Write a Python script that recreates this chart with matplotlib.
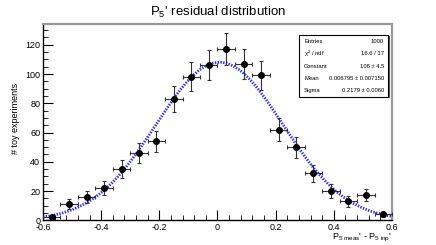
import matplotlib
matplotlib.use("Agg")
import matplotlib.pyplot as plt
import numpy as np
from matplotlib.ticker import MultipleLocator

plt.rcParams["font.family"] = ["Liberation Sans", "DejaVu Sans"]
plt.rcParams["mathtext.fontset"] = "custom"
plt.rcParams["mathtext.rm"] = "Liberation Sans"
plt.rcParams["mathtext.it"] = "Liberation Sans"

# histogram of toy residuals, 20 bins in [-0.6, 0.6]
bin_centers = [-0.57, -0.51, -0.45, -0.39, -0.33, -0.27, -0.21, -0.15, -0.09, -0.03,
               0.03, 0.09, 0.15, 0.21, 0.27, 0.33, 0.39, 0.45, 0.51, 0.57]
counts = [2, 11, 16, 22, 35, 46, 54, 83, 98, 106,
          117, 107, 99, 62, 50, 32, 20, 13, 17, 4]
count_errors = [1.4, 3.3, 4.0, 4.7, 5.9, 6.8, 7.3, 9.1, 9.9, 10.3,
                10.8, 10.3, 9.9, 7.9, 7.1, 5.7, 4.5, 3.6, 4.1, 2.0]
half_width = 0.03

# gaussian fit result
fit_constant = 108.0
fit_mean = 0.006795
fit_sigma = 0.2179

stats_names = ["Entries", r"$\chi^2$ / ndf", "Constant", "Mean", "Sigma"]
stats_values = ["1000", "16.6 / 17", "108 ± 4.5", "0.006795 ± 0.007150", "0.2179 ± 0.0060"]

fig = plt.figure(figsize=(4.36, 2.45), dpi=100)
ax = fig.add_axes([0.0986, 0.1008, 0.8005, 0.8012])

xs = np.linspace(-0.6, 0.6, 400)
gauss = fit_constant * np.exp(-0.5 * ((xs - fit_mean) / fit_sigma) ** 2)
ax.plot(xs, gauss, color="#2a2aff", lw=2.0, ls=(0, (0.5, 0.5)), zorder=2)

ax.errorbar(bin_centers, counts, xerr=half_width, yerr=count_errors, fmt="o",
            color="black", ms=4.0, ecolor="#333333", elinewidth=0.8,
            capsize=1.5, capthick=0.8, zorder=3)

ax.set_xlim(-0.6, 0.6)
ax.set_ylim(0, 134.2)
ax.xaxis.set_major_locator(MultipleLocator(0.2))
ax.xaxis.set_minor_locator(MultipleLocator(0.04))
ax.yaxis.set_major_locator(MultipleLocator(20))
ax.yaxis.set_minor_locator(MultipleLocator(5))
ax.xaxis.set_major_formatter(plt.FuncFormatter(lambda v, p: "0" if abs(v) < 1e-9 else f"{v:.1f}"))
ax.tick_params(which="major", direction="in", length=7, width=0.8, labelsize=6.5, pad=2)
ax.tick_params(which="minor", direction="in", length=3.5, width=0.6)

for side in ["left", "bottom"]:
    ax.spines[side].set_color("black")
    ax.spines[side].set_linewidth(1.0)
for side in ["top", "right"]:
    ax.spines[side].set_color("#999999")
    ax.spines[side].set_linewidth(1.6)

fig.text(0.5, 0.95, r"P$_5$' residual distribution", ha="center", va="center", fontsize=9.5)
ax.set_ylabel("# toy experiments", fontsize=6.5)
ax.yaxis.set_label_coords(-0.065, 0.52)
ax.set_xlabel(r"P$_{5\ \mathrm{meas}}$' - P$_{5\ \mathrm{inp}}$'", fontsize=6.5)
ax.xaxis.set_label_coords(1.0, -0.06)
ax.xaxis.label.set_ha("right")
ax.xaxis.label.set_va("top")

# stats box
box_x0, box_x1 = 0.733, 0.989
box_y0, box_y1 = 0.628, 0.944
ax.add_patch(plt.Rectangle((box_x0 + 0.004, box_y0 - 0.007), box_x1 - box_x0, box_y1 - box_y0,
                           transform=ax.transAxes, facecolor="#555555", edgecolor="none", zorder=4))
ax.add_patch(plt.Rectangle((box_x0, box_y0), box_x1 - box_x0, box_y1 - box_y0,
                           transform=ax.transAxes, facecolor="white", edgecolor="black",
                           lw=0.8, zorder=5))
row_h = (box_y1 - box_y0) / len(stats_names)
for i, (name, val) in enumerate(zip(stats_names, stats_values)):
    yy = box_y1 - (i + 0.5) * row_h
    ax.text(box_x0 + 0.015, yy, name, transform=ax.transAxes, fontsize=4.2,
            ha="left", va="center", zorder=6)
    ax.text(box_x1 - 0.012, yy, val, transform=ax.transAxes, fontsize=4.2,
            ha="right", va="center", zorder=6)

fig.savefig("out.png", dpi=100)
